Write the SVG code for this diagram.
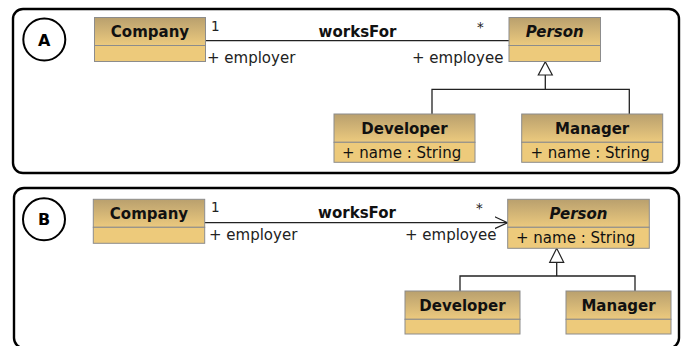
<svg xmlns="http://www.w3.org/2000/svg" width="683" height="346" viewBox="0 0 683 346">
<defs>
<linearGradient id="hdr" x1="0" y1="0" x2="0" y2="1">
<stop offset="0" stop-color="#b9a06e"/>
<stop offset="1" stop-color="#ecca7e"/>
</linearGradient>
<marker id="open" viewBox="0 0 14 14" refX="13" refY="7" markerWidth="14" markerHeight="14" markerUnits="userSpaceOnUse" orient="auto">
<path d="M0,1 L13,7 L0,13" fill="none" stroke="#222" stroke-width="1.2"/>
</marker>
</defs>
<style>
.panel{fill:#fff;stroke:#000;stroke-width:2.4}
.circ{fill:#fff;stroke:#000;stroke-width:2}
.lbl{font-family:"DejaVu Sans",Verdana,sans-serif;font-weight:bold;font-size:16px;text-anchor:middle}
.hd{fill:url(#hdr);stroke:#8c8c8c;stroke-width:1}
.cp{fill:#edca7b;stroke:#8c8c8c;stroke-width:1}
.cn{font-family:"DejaVu Sans",Verdana,sans-serif;font-weight:bold;font-size:15px;text-anchor:middle;fill:#111}
.it{font-style:italic}
.at{font-family:"DejaVu Sans",Verdana,sans-serif;font-size:15px;fill:#111}
.as{font-family:"DejaVu Sans",Verdana,sans-serif;font-size:15px;fill:#222}
.mul{font-family:"DejaVu Sans",Verdana,sans-serif;font-size:13.5px;fill:#222}
.nm{font-family:"DejaVu Sans",Verdana,sans-serif;font-weight:bold;font-size:15px;text-anchor:middle;fill:#111}
.ln{fill:none;stroke:#222;stroke-width:1.3}
.tri{fill:#fff;stroke:#222;stroke-width:1.2}
</style>
<g id="panelA">
<rect class="panel" x="13" y="9" width="666" height="164" rx="10"/>
<circle class="circ" cx="44.3" cy="39.5" r="21"/>
<text class="lbl" x="44.3" y="45.5">A</text>
</g>
<g id="panelB">
<rect class="panel" x="14" y="188" width="665" height="160" rx="10"/>
<circle class="circ" cx="44" cy="219.3" r="21"/>
<text class="lbl" x="44" y="225.3">B</text>
</g>
<g id="connectors">
<line class="ln" x1="205.5" y1="40.7" x2="509" y2="40.7"/>
<text class="mul" x="211" y="31">1</text>
<text class="nm" x="357.5" y="36.5">worksFor</text>
<text class="mul" x="477" y="32">*</text>
<text class="as" x="207" y="63">+ employer</text>
<text class="as" x="412" y="63">+ employee</text>
<path class="ln" d="M545.3,75 V89.3 M432,114 V89.3 H629.3 V114"/>
<polygon class="tri" points="545.3,61.7 538.3,75 552.3,75"/>
<line class="ln" x1="204.5" y1="222.7" x2="507.5" y2="222.7" marker-end="url(#open)"/>
<text class="mul" x="211" y="212">1</text>
<text class="nm" x="357" y="218">worksFor</text>
<text class="mul" x="476" y="213">*</text>
<text class="as" x="209" y="240">+ employer</text>
<text class="as" x="405" y="240">+ employee</text>
<path class="ln" d="M556.7,262.3 V276 M460,291 V276 H635 V291"/>
<polygon class="tri" points="556.7,248.3 549.7,262.3 563.7,262.3"/>
</g>
<g id="companyA">
<rect class="hd" x="94.5" y="17.5" width="111" height="28"/>
<rect class="cp" x="94.5" y="45.5" width="111" height="16"/>
<text class="cn" x="150" y="37">Company</text>
</g>
<g id="personA">
<rect class="hd" x="509" y="17.5" width="91.5" height="28"/>
<rect class="cp" x="509" y="45.5" width="91.5" height="16"/>
<text class="cn it" x="554.7" y="37">Person</text>
</g>
<g id="developerA">
<rect class="hd" x="334" y="114" width="141" height="28.3"/>
<rect class="cp" x="334" y="142.3" width="141" height="20"/>
<text class="cn" x="404.5" y="134">Developer</text>
<text class="at" x="342" y="157.5">+ name : String</text>
</g>
<g id="managerA">
<rect class="hd" x="521.7" y="114" width="141" height="28.3"/>
<rect class="cp" x="521.7" y="142.3" width="141" height="20"/>
<text class="cn" x="592.2" y="134">Manager</text>
<text class="at" x="530.5" y="157.5">+ name : String</text>
</g>
<g id="companyB">
<rect class="hd" x="93.3" y="199.3" width="111.4" height="28"/>
<rect class="cp" x="93.3" y="227.3" width="111.4" height="16"/>
<text class="cn" x="149" y="219">Company</text>
</g>
<g id="personB">
<rect class="hd" x="507.7" y="199.3" width="141.6" height="28"/>
<rect class="cp" x="507.7" y="227.3" width="141.6" height="21"/>
<text class="cn it" x="578.5" y="219">Person</text>
<text class="at" x="516" y="243">+ name : String</text>
</g>
<g id="developerB">
<rect class="hd" x="405" y="291" width="115" height="28.3"/>
<rect class="cp" x="405" y="319.3" width="115" height="14.7"/>
<text class="cn" x="462.5" y="310.5">Developer</text>
</g>
<g id="managerB">
<rect class="hd" x="566" y="291" width="105" height="28.3"/>
<rect class="cp" x="566" y="319.3" width="105" height="14.7"/>
<text class="cn" x="618.5" y="310.5">Manager</text>
</g>
</svg>
